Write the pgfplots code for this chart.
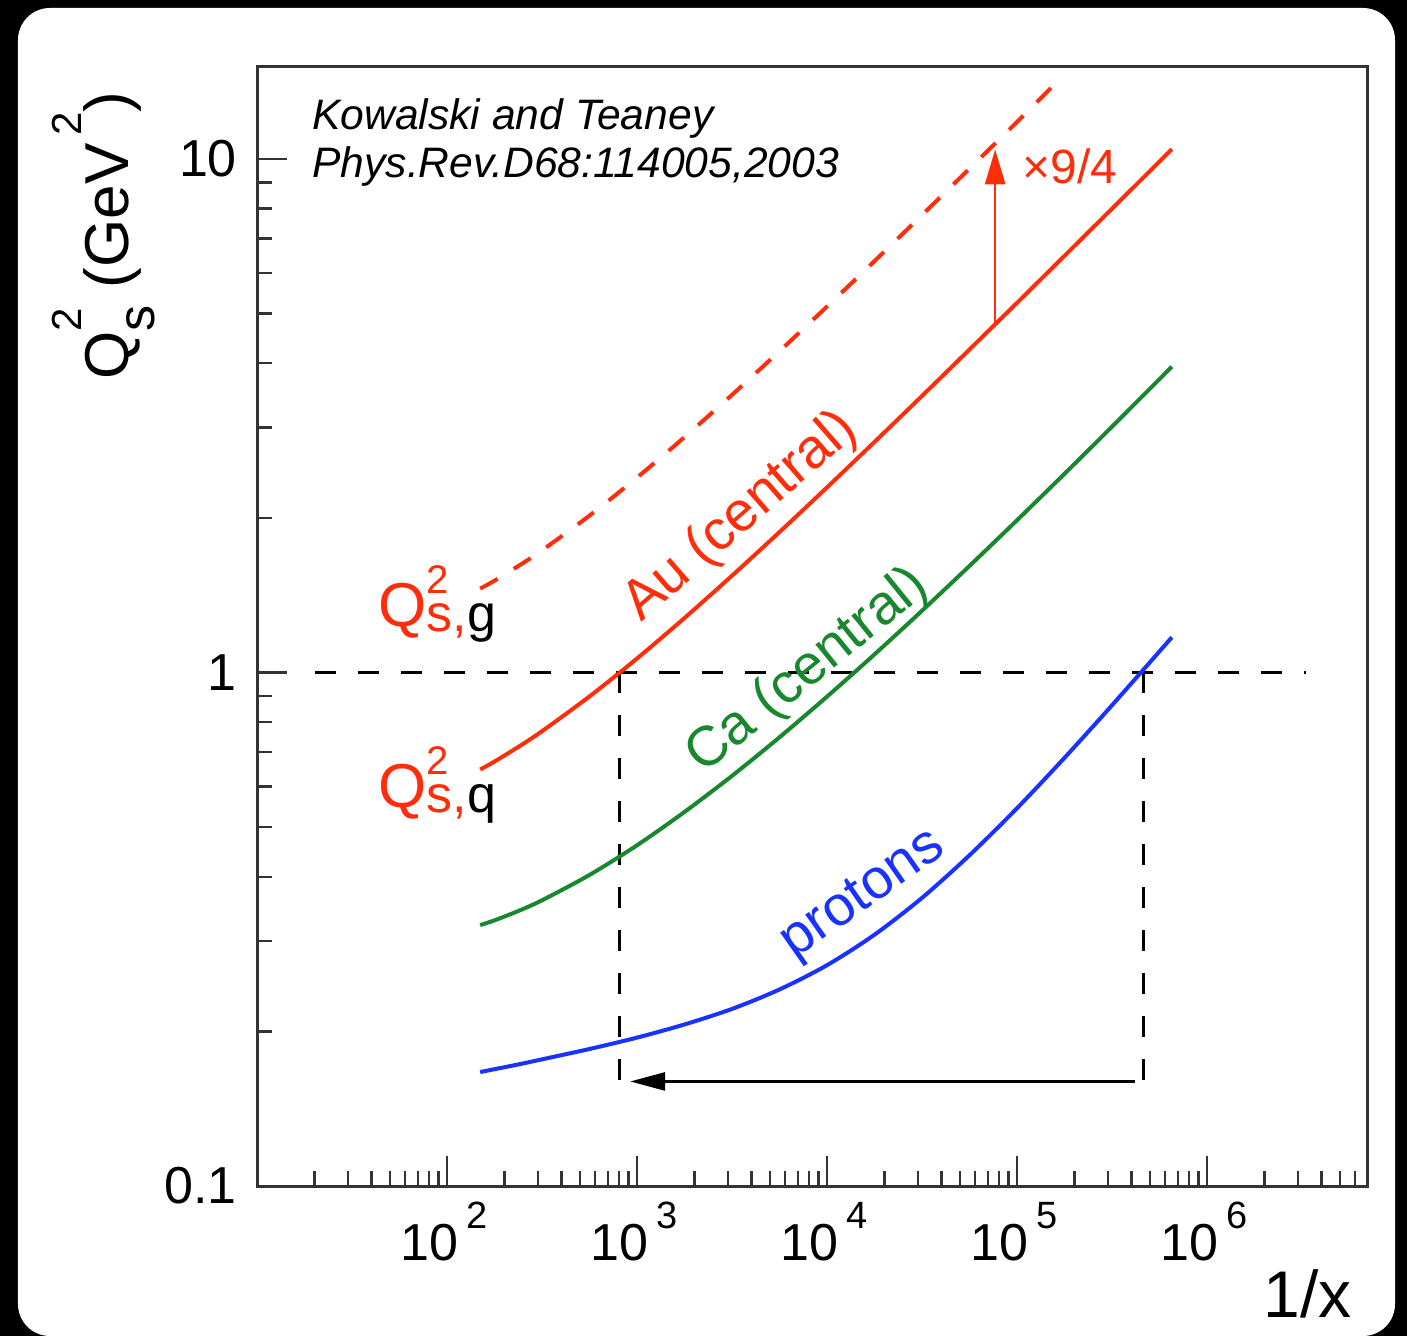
\documentclass[border=0pt]{standalone}
\usepackage{fontspec}
\setmainfont{Liberation Sans}
\usepackage{pgfplots}
\pgfplotsset{compat=1.18}
\usetikzlibrary{arrows.meta}

\definecolor{qred}{RGB}{255,45,10}
\definecolor{qgreen}{RGB}{25,135,45}
\definecolor{qblue}{RGB}{25,50,255}

\newcommand\fs[1]{\fontsize{#1}{#1}\selectfont}
\newcommand\tp[1]{10\hspace{4pt}\raisebox{16pt}{\fs{19}#1}}

\begin{document}
\begin{tikzpicture}
\fill[black] (-128.65pt,-75pt) rectangle (574.85pt,593pt);
\fill[white, rounded corners=16pt] (-119.65pt,-75pt) rectangle (568.85pt,589pt);
\begin{axis}[
  at={(0,0)}, anchor=south west,
  scale only axis, width=555.2pt, height=559.5pt,
  xmode=log, ymode=log,
  xmin=10, xmax=7e6, ymin=0.1, ymax=15.1,
  axis line style={line width=1.5pt, black!80},
  tick align=inside,
  xtick pos=bottom, ytick pos=left,
  major tick length=15pt, minor tick length=7.5pt,
  tick style={line width=1.2pt, black!80},
  xtick={100,1000,10000,100000,1000000},
  xticklabels={\tp{2},\tp{3},\tp{4},\tp{5},\tp{6}},
  minor xtick={20,30,40,50,60,70,80,90,200,300,400,500,600,700,800,900,2000,3000,4000,5000,6000,7000,8000,9000,20000,30000,40000,50000,60000,70000,80000,90000,200000,300000,400000,500000,600000,700000,800000,900000,2000000,3000000,4000000,5000000,6000000},
  ytick={0.1,1,10}, yticklabels={0.1,1,10},
  minor ytick={0.2,0.3,0.4,0.5,0.6,0.7,0.8,0.9,2,3,4,5,6,7,8,9},
  xticklabel style={font=\fs{26}, anchor=north, inner sep=0pt, yshift=-8pt, xshift=-1.5pt},
  yticklabel style={font=\fs{26}, anchor=east, inner sep=0pt, xshift=-10pt},
  /pgf/number format/assume math mode=true,
]
% reference dashed lines
\addplot[black, line width=1.6pt, dash pattern=on 10.5pt off 11pt] coordinates {(20.2,1) (3.3e6,1)};
\addplot[black, line width=1.6pt, dash pattern=on 10.5pt off 11pt] coordinates {(803,1) (803,0.1507)};
\addplot[black, line width=1.6pt, dash pattern=on 10.5pt off 11pt] coordinates {(4.63e5,1) (4.63e5,0.1507)};
\addplot[black, line width=1.4pt, -{Triangle[length=17.5pt,width=9pt]}] coordinates {(4.18e5,0.1598) (918,0.1598)};
% Au gluon (dashed, x 9/4)
\addplot[qred, line width=2pt, smooth, dash pattern=on 10pt off 9.5pt] coordinates {
(149,1.456) (177.8,1.5102) (237.1,1.6124) (316,1.730) (562,2.022) (1000,2.398) (1778,2.875) (3162,3.475) (5623,4.227) (10000,5.164) (17783,6.331) (31623,7.782) (56234,9.583) (100000,11.811) (170600,14.4)};
% Au quark
\addplot[qred, line width=2pt, smooth] coordinates {
(149,0.6471) (177.8,0.6712) (237.1,0.7166) (316,0.7690) (562,0.8987) (1000,1.0656) (1778,1.2777) (3162,1.5446) (5623,1.8785) (10000,2.2951) (17783,2.8138) (31623,3.4581) (56234,4.2585) (100000,5.2492) (177828,6.4806) (316228,8.0054) (652000,10.445)};
% Ca
\addplot[qgreen, line width=2pt, smooth] coordinates {
(149,0.3221) (177.8,0.3292) (237.1,0.3433) (316,0.3602) (562,0.4036) (1000,0.4611) (1778,0.5354) (3162,0.6295) (5623,0.7485) (10000,0.8981) (17783,1.0854) (31623,1.3199) (56234,1.6137) (100000,1.9805) (177828,2.4389) (316228,3.0126) (652000,3.9401)};
% protons
\addplot[qblue, line width=2pt, smooth] coordinates {
(149,0.1667) (177.8,0.1689) (237.1,0.1725) (316,0.1765) (562,0.1849) (1000,0.1946) (1778,0.2064) (3162,0.2213) (5623,0.2415) (10000,0.2693) (17783,0.3088) (31623,0.3643) (56234,0.4410) (100000,0.5445) (177828,0.6827) (316228,0.8639) (652000,1.1708)};
% x 9/4 arrow
\addplot[qred, line width=1.3pt, -{Triangle[length=17.5pt,width=10pt]}] coordinates {(76560,4.8) (76560,10.44)};
\end{axis}
% texts
\node[anchor=base west, inner sep=0pt, font=\fs{21.3}\itshape] at (27.35pt,528pt) {Kowalski and Teaney};
\node[anchor=base west, inner sep=0pt, font=\fs{21.3}\itshape] at (27.35pt,504pt) {Phys.Rev.D68:114005,2003};
\node[anchor=base west, inner sep=0pt, text=qred, font=\fs{24}] at (382.35pt,501pt) {×9/4};
\node[anchor=base west, inner sep=0pt] at (60.35pt,279.5pt) {\fs{31}\color{qred}Q\rlap{\raisebox{16.5pt}{\fs{20}2}}\raisebox{-2.5pt}{\fs{26}s,\color{black}g}};
\node[anchor=base west, inner sep=0pt] at (60.35pt,189pt) {\fs{31}\color{qred}Q\rlap{\raisebox{16.5pt}{\fs{20}2}}\raisebox{-2.5pt}{\fs{26}s,\color{black}q}};
\node[anchor=base west, inner sep=0pt, rotate=41, text=qred, font=\fs{28}] at (191.85pt,281.5pt) {Au (central)};
\node[anchor=base west, inner sep=0pt, rotate=39, text=qgreen, font=\fs{28}] at (222.85pt,205.5pt) {Ca (central)};
\node[anchor=base west, inner sep=0pt, rotate=35, text=qblue, font=\fs{28}] at (268.35pt,113pt) {protons};
\node[anchor=base west, inner sep=0pt, rotate=90] at (-64.65pt,403pt) {\fs{31}Q\rlap{\raisebox{23pt}{\fs{21}2}}\raisebox{-13.5pt}{\fs{26}s}\ (GeV\hspace{4pt}\raisebox{23pt}{\fs{21}2})};
\node[anchor=base east, inner sep=0pt, font=\fs{33}] at (547.35pt,-66pt) {1/x};
\pgfresetboundingbox
\useasboundingbox (-128.65pt,-75pt) rectangle (574.85pt,593pt);
\end{tikzpicture}
\end{document}
